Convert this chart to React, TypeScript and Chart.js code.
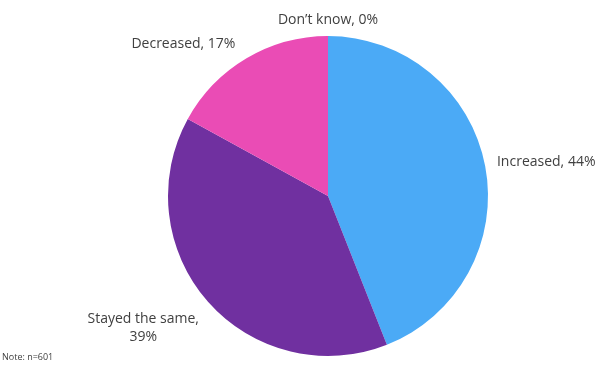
import React, { useEffect, useRef } from "react";
import { Chart, registerables } from "chart.js";

Chart.register(...registerables);

const categories = ["Increased", "Stayed the same", "Decreased", "Don\u2019t know"];
const values = [44, 39, 17, 0];
const labelLines = [["Increased, 44%"], ["Stayed the same,", "39%"], ["Decreased, 17%"], ["Don\u2019t know, 0%"]];
const colors = ["#4BAAF6", "#7030A0", "#EA4CB5", "#A5A5A5"];
const note = "Note: n=601";

const FONT = "14px 'Open Sans', Lato, sans-serif";

const labelPlugin = {
  id: "outsideLabels",
  afterDatasetsDraw(chart: any) {
    const ctx = chart.ctx;
    const meta = chart.getDatasetMeta(0);
    ctx.save();
    ctx.font = FONT;
    ctx.fillStyle = "#404040";
    ctx.textBaseline = "middle";
    ctx.textAlign = "center";
    const lineH = 18;
    meta.data.forEach((arc: any, i: number) => {
      const { x, y, startAngle, endAngle, outerRadius } = arc.getProps(
        ["x", "y", "startAngle", "endAngle", "outerRadius"],
        true
      );
      const mid = (startAngle + endAngle) / 2;
      const dx = Math.cos(mid);
      const dy = Math.sin(mid);
      const d = outerRadius + 12;
      const ax = x + dx * d;
      const ay = y + dy * d;
      const lines = labelLines[i];
      const w = Math.max(...lines.map((l: string) => ctx.measureText(l).width));
      const h = lines.length * lineH;
      const clamp = (v: number) => Math.max(-1, Math.min(1, v * 2));
      const sx = clamp(dx);
      const sy = dy > 0 ? clamp(dy) : clamp(dy) * 0.45;
      const cx = ax + (sx * w) / 2 - (dy < -0.5 && dx < -0.3 ? 5 : 0);
      const cy = ay + (sy * h) / 2;
      lines.forEach((l: string, j: number) => {
        ctx.fillText(l, cx, cy - h / 2 + lineH / 2 + j * lineH);
      });
    });
    ctx.font = "9px 'Open Sans', Lato, sans-serif";
    ctx.textAlign = "left";
    ctx.fillText(note, 2, 357);
    ctx.restore();
  },
};

export default function App() {
  const ref = useRef<HTMLCanvasElement>(null);
  useEffect(() => {
    if (!ref.current) return;
    const chart = new Chart(ref.current, {
      type: "pie",
      data: {
        labels: categories,
        datasets: [
          {
            data: values,
            backgroundColor: colors,
            borderWidth: 0,
          },
        ],
      },
      options: {
        responsive: false,
        animation: false,
        layout: { padding: { left: 168, right: 112, top: 36, bottom: 10 } },
        plugins: {
          legend: { display: false },
          tooltip: { enabled: false },
        },
      },
      plugins: [labelPlugin],
    });
    return () => chart.destroy();
  }, []);
  return (
    <div style={{ position: "fixed", left: 0, top: 0, width: 600, height: 366, background: "#fff" }}>
      <canvas ref={ref} width={600} height={366} />
    </div>
  );
}
